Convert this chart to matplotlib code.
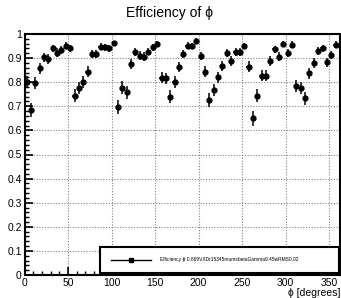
import matplotlib
matplotlib.use("Agg")
import matplotlib.pyplot as plt
from matplotlib.lines import Line2D
from matplotlib.ticker import MultipleLocator
import numpy as np

plt.rcParams['font.family'] = ['Liberation Sans', 'DejaVu Sans']

# bin centres (degrees), 5-degree bins
phi = [2.5 + 5 * i for i in range(72)]
efficiency = [
    0.800, 0.685, 0.795, 0.858, 0.903, 0.896, 0.941, 0.923, 0.934, 0.951,
    0.941, 0.744, 0.775, 0.802, 0.844, 0.917, 0.916, 0.947, 0.944, 0.941,
    0.961, 0.698, 0.777, 0.758, 0.876, 0.924, 0.910, 0.906, 0.927, 0.944,
    0.958, 0.819, 0.816, 0.740, 0.802, 0.864, 0.917, 0.951, 0.950, 0.972,
    0.909, 0.844, 0.726, 0.768, 0.820, 0.867, 0.922, 0.888, 0.924, 0.925,
    0.950, 0.865, 0.650, 0.744, 0.826, 0.826, 0.888, 0.936, 0.906, 0.957,
    0.922, 0.955, 0.784, 0.775, 0.733, 0.837, 0.880, 0.929, 0.941, 0.882,
    0.913, 0.955,
]
eff_err = [
    0.025, 0.030, 0.025, 0.022, 0.018, 0.019, 0.015, 0.017, 0.016, 0.014,
    0.015, 0.027, 0.026, 0.024, 0.022, 0.017, 0.017, 0.014, 0.015, 0.015,
    0.012, 0.029, 0.026, 0.027, 0.020, 0.017, 0.018, 0.018, 0.016, 0.015,
    0.013, 0.023, 0.023, 0.027, 0.024, 0.021, 0.017, 0.014, 0.014, 0.011,
    0.018, 0.022, 0.028, 0.026, 0.023, 0.021, 0.017, 0.019, 0.017, 0.017,
    0.014, 0.021, 0.030, 0.027, 0.023, 0.023, 0.019, 0.016, 0.018, 0.013,
    0.017, 0.014, 0.026, 0.026, 0.027, 0.023, 0.020, 0.016, 0.015, 0.020,
    0.018, 0.014,
]
bin_half_width = 2.5
legend_label = "Efficiency \u03d5 0.869VXDr15345mumsbetaGamma9.45wRMS0.02"

W, H = 341, 298
fig = plt.figure(figsize=(W / 100, H / 100), dpi=100)
ax = fig.add_axes([24.5 / W, (H - 275) / H, (340 - 24.5) / W, (275 - 34) / H])

ax.errorbar(phi, efficiency, yerr=eff_err, xerr=bin_half_width,
            fmt='o', color='black', ms=3.5, elinewidth=1.1, capsize=0, zorder=3)

ax.set_xlim(0, 362.6)
ax.set_ylim(0, 1.0)
ax.xaxis.set_major_locator(MultipleLocator(50))
ax.xaxis.set_minor_locator(MultipleLocator(10))
ax.yaxis.set_major_locator(MultipleLocator(0.1))
ax.yaxis.set_minor_locator(MultipleLocator(0.02))
ax.set_yticks(np.arange(0, 1.01, 0.1))
ax.set_yticklabels(['0', '0.1', '0.2', '0.3', '0.4', '0.5', '0.6', '0.7', '0.8', '0.9', '1'])

ax.tick_params(which='both', direction='in', top=False, right=False, labelsize=7.5, pad=2)
ax.tick_params(which='major', length=6, width=1.2)
ax.tick_params(which='minor', length=3, width=1.0)

ax.grid(True, which='major', color='0.5', linestyle=(0, (1, 1.5)), linewidth=0.8)
ax.set_axisbelow(True)
for s in ax.spines.values():
    s.set_linewidth(1.5)

fig.text(170 / W, 1 - 13 / H, "Efficiency of \u03d5", ha='center', va='center', fontsize=10)
fig.text(340 / W, 1 - 293 / H, "\u03d5 [degrees]", ha='right', va='center', fontsize=7.5)

handle = Line2D([], [], color='black', lw=1.0, marker='s', ms=3)
leg = fig.legend([handle], [legend_label], loc='lower left',
                 bbox_to_anchor=(100 / W, 1 - 273 / H, 239 / W, 27 / H), mode='expand',
                 fontsize=3.5, frameon=True, fancybox=False, borderpad=2.2,
                 handlelength=8.2, handletextpad=2.0, borderaxespad=0)
leg.get_frame().set_edgecolor('black')
leg.get_frame().set_linewidth(1.5)
leg.get_frame().set_alpha(1)

fig.savefig("out.png", dpi=100)
